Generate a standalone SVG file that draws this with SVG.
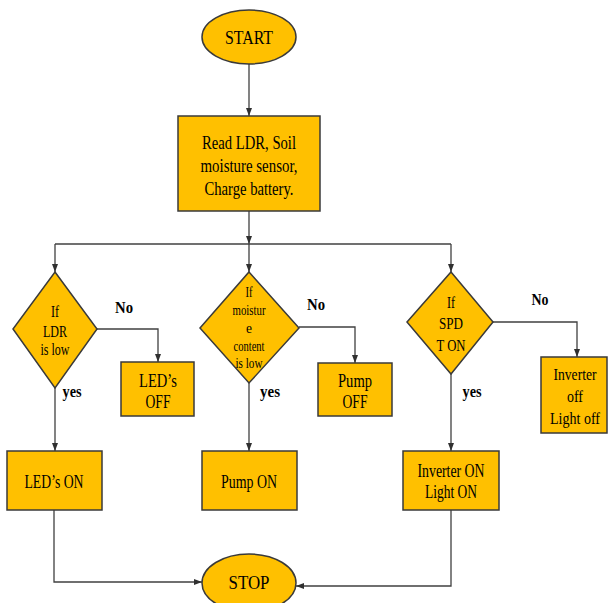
<svg xmlns="http://www.w3.org/2000/svg" width="608" height="603" viewBox="0 0 608 603">
<style>
.shape{fill:#FFC000;stroke:#3a3a3a;stroke-width:1.5}
.conn{fill:none;stroke:#404040;stroke-width:1.3}
text{font-family:"Liberation Serif","Times New Roman",serif;fill:#000;text-anchor:middle}
.t19{font-size:19px}
.t18{font-size:18px}
.t16{font-size:16px}
.t15{font-size:15px}
.lbl{font-size:16px;font-weight:bold}
</style>
<defs>
<marker id="ah" markerUnits="userSpaceOnUse" markerWidth="8" markerHeight="8" viewBox="0 0 8 8" refX="8" refY="4" orient="auto">
<path d="M0,1 L8,4 L0,7 Z" fill="#303030"/>
</marker>
</defs>
<rect width="608" height="603" fill="#fff"/>
<g id="connectors">
<path class="conn" d="M249,64 V116" marker-end="url(#ah)"/>
<path class="conn" d="M249,211 V244" marker-end="url(#ah)"/>
<path class="conn" d="M55,244 H451"/>
<path class="conn" d="M55,244 V272" marker-end="url(#ah)"/>
<path class="conn" d="M249,244 V272" marker-end="url(#ah)"/>
<path class="conn" d="M451,244 V272" marker-end="url(#ah)"/>
<path class="conn" d="M97,329 H158 V362" marker-end="url(#ah)"/>
<path class="conn" d="M55,388 V451" marker-end="url(#ah)"/>
<path class="conn" d="M299,327 H355 V363" marker-end="url(#ah)"/>
<path class="conn" d="M249,383 V451" marker-end="url(#ah)"/>
<path class="conn" d="M493,322 H577 V357" marker-end="url(#ah)"/>
<path class="conn" d="M451,374 V451" marker-end="url(#ah)"/>
<path class="conn" d="M54,510 V582 H202" marker-end="url(#ah)"/>
<path class="conn" d="M451,510 V586 H296" marker-end="url(#ah)"/>
<text class="lbl" x="124" y="313" textLength="18" lengthAdjust="spacingAndGlyphs">No</text>
<text class="lbl" x="72" y="397" textLength="19" lengthAdjust="spacingAndGlyphs">yes</text>
<text class="lbl" x="316" y="310" textLength="18" lengthAdjust="spacingAndGlyphs">No</text>
<text class="lbl" x="270" y="397" textLength="20" lengthAdjust="spacingAndGlyphs">yes</text>
<text class="lbl" x="540" y="305" textLength="17" lengthAdjust="spacingAndGlyphs">No</text>
<text class="lbl" x="472" y="397" textLength="19" lengthAdjust="spacingAndGlyphs">yes</text>
</g>
<g id="start">
<ellipse class="shape" cx="249" cy="37" rx="47" ry="27"/>
<text class="t19" x="249" y="44" textLength="48" lengthAdjust="spacingAndGlyphs">START</text>
</g>
<g id="read">
<rect class="shape" x="178" y="116" width="142" height="95"/>
<text class="t18" x="249" y="149" textLength="94" lengthAdjust="spacingAndGlyphs">Read LDR, Soil</text>
<text class="t18" x="249" y="172" textLength="97" lengthAdjust="spacingAndGlyphs">moisture sensor,</text>
<text class="t18" x="249" y="195" textLength="89" lengthAdjust="spacingAndGlyphs">Charge battery.</text>
</g>
<g id="dec-ldr">
<polygon class="shape" points="55,272 97,329 55,388 13,329"/>
<text class="t16" x="55" y="317" textLength="8" lengthAdjust="spacingAndGlyphs">If</text>
<text class="t16" x="55" y="337" textLength="24" lengthAdjust="spacingAndGlyphs">LDR</text>
<text class="t16" x="55" y="355" textLength="29" lengthAdjust="spacingAndGlyphs">is low</text>
</g>
<g id="leds-off">
<rect class="shape" x="121" y="362" width="73" height="54"/>
<text class="t18" x="158" y="387" textLength="38" lengthAdjust="spacingAndGlyphs">LED’s</text>
<text class="t18" x="158" y="408" textLength="25" lengthAdjust="spacingAndGlyphs">OFF</text>
</g>
<g id="leds-on">
<rect class="shape" x="7" y="451" width="95" height="59"/>
<text class="t18" x="54" y="488" textLength="59" lengthAdjust="spacingAndGlyphs">LED’s ON</text>
</g>
<g id="dec-moisture">
<polygon class="shape" points="249,272 299,328 249,383 200,328"/>
<text class="t15" x="249" y="297" textLength="7" lengthAdjust="spacingAndGlyphs">If</text>
<text class="t15" x="249" y="315" textLength="33" lengthAdjust="spacingAndGlyphs">moistur</text>
<text class="t15" x="249" y="333" textLength="6" lengthAdjust="spacingAndGlyphs">e</text>
<text class="t15" x="249" y="351" textLength="31" lengthAdjust="spacingAndGlyphs">content</text>
<text class="t15" x="249" y="368" textLength="27" lengthAdjust="spacingAndGlyphs">is low</text>
</g>
<g id="pump-off">
<rect class="shape" x="318" y="363" width="74" height="53"/>
<text class="t18" x="355" y="387" textLength="34" lengthAdjust="spacingAndGlyphs">Pump</text>
<text class="t18" x="355" y="408" textLength="25" lengthAdjust="spacingAndGlyphs">OFF</text>
</g>
<g id="pump-on">
<rect class="shape" x="202" y="451" width="95" height="59"/>
<text class="t18" x="249" y="488" textLength="56" lengthAdjust="spacingAndGlyphs">Pump ON</text>
</g>
<g id="dec-spdt">
<polygon class="shape" points="451,272 493,322 451,374 407,322"/>
<text class="t16" x="451" y="308" textLength="8" lengthAdjust="spacingAndGlyphs">If</text>
<text class="t16" x="451" y="329" textLength="24" lengthAdjust="spacingAndGlyphs">SPD</text>
<text class="t16" x="451" y="351" textLength="29" lengthAdjust="spacingAndGlyphs">T ON</text>
</g>
<g id="inverter-off">
<rect class="shape" x="541" y="357" width="66" height="76"/>
<text class="t16" x="575" y="380" textLength="43" lengthAdjust="spacingAndGlyphs">Inverter</text>
<text class="t16" x="575" y="402" textLength="16" lengthAdjust="spacingAndGlyphs">off</text>
<text class="t16" x="575" y="424" textLength="50" lengthAdjust="spacingAndGlyphs">Light off</text>
</g>
<g id="inverter-on">
<rect class="shape" x="403" y="451" width="96" height="59"/>
<text class="t18" x="451" y="477" textLength="67" lengthAdjust="spacingAndGlyphs">Inverter ON</text>
<text class="t18" x="451" y="498" textLength="52" lengthAdjust="spacingAndGlyphs">Light ON</text>
</g>
<g id="stop">
<ellipse class="shape" cx="249" cy="583" rx="47" ry="29"/>
<text class="t19" x="249" y="589" textLength="41" lengthAdjust="spacingAndGlyphs">STOP</text>
</g>
</svg>
